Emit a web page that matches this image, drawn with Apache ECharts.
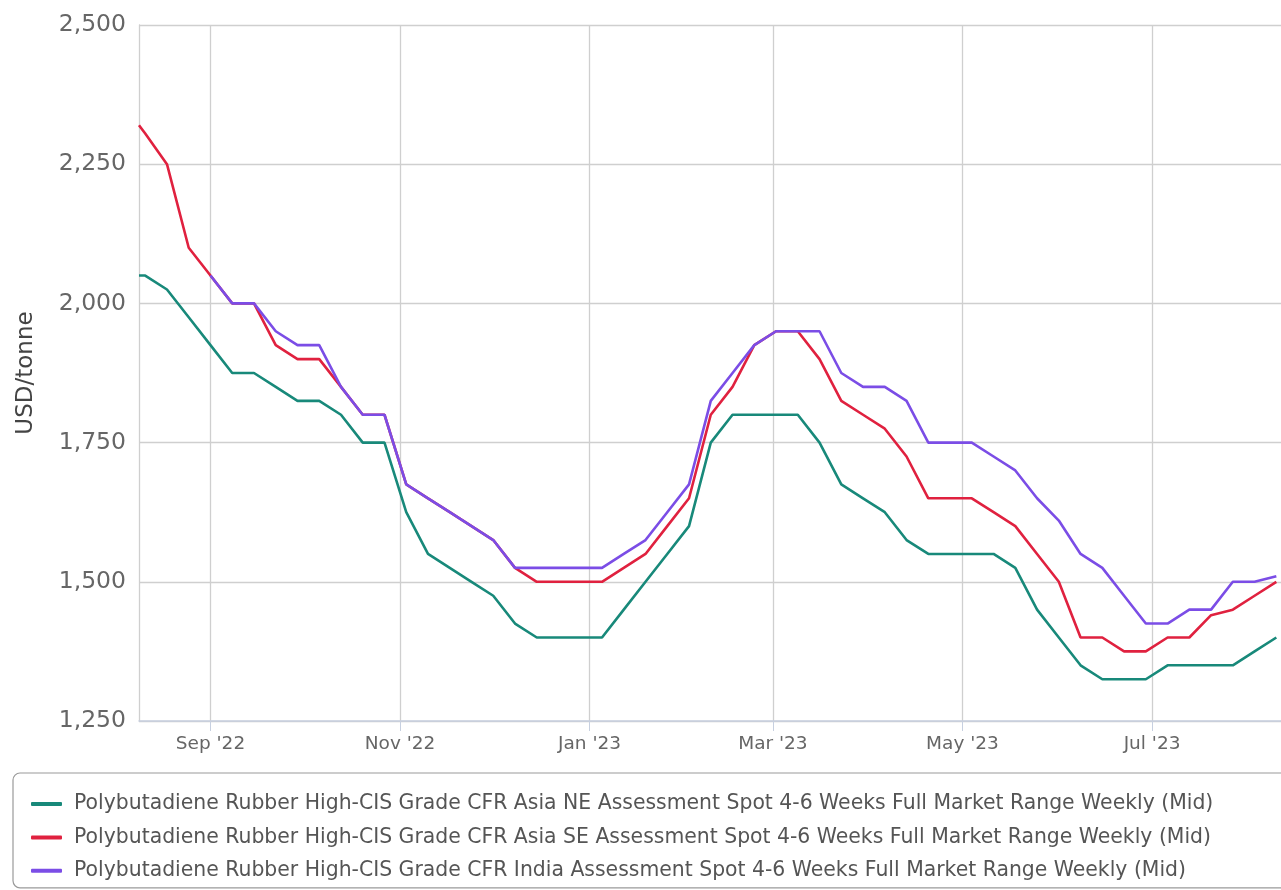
<!DOCTYPE html>
<html><head><meta charset="utf-8">
<script src="https://cdn.jsdelivr.net/npm/echarts@6/dist/echarts.min.js"></script>
<style>html,body{margin:0;padding:0;background:#fff;overflow:hidden}#c{width:1281px;height:890px}</style>
</head><body><div id="c"></div>
<script>
const dates = ['2022-08-09',
  '2022-08-11','2022-08-18','2022-08-25','2022-09-01','2022-09-08','2022-09-15','2022-09-22','2022-09-29',
  '2022-10-06','2022-10-13','2022-10-20','2022-10-27','2022-11-03','2022-11-10','2022-11-17','2022-11-24',
  '2022-12-01','2022-12-08','2022-12-15','2022-12-22','2022-12-29','2023-01-05','2023-01-12','2023-01-19',
  '2023-01-26','2023-02-02','2023-02-09','2023-02-16','2023-02-23','2023-03-02','2023-03-09','2023-03-16',
  '2023-03-23','2023-03-30','2023-04-06','2023-04-13','2023-04-20','2023-04-27','2023-05-04','2023-05-11',
  '2023-05-18','2023-05-25','2023-06-01','2023-06-08','2023-06-15','2023-06-22','2023-06-29','2023-07-06',
  '2023-07-13','2023-07-20','2023-07-27','2023-08-03','2023-08-10'];
const neValues = [2050,
  2050,2025,1975,1925,1875,1875,1850,1825,1825,1800,1750,1750,1625,1550,1525,1500,
  1475,1425,1400,1400,1400,1400,1450,1500,1550,1600,1750,1800,1800,1800,1800,1750,
  1675,1650,1625,1575,1550,1550,1550,1550,1525,1450,1400,1350,1325,1325,1325,1350,
  1350,1350,1350,1375,1400];
const seValues = [2320,
  2305,2250,2100,2050,2000,2000,1925,1900,1900,1850,1800,1800,1675,1650,1625,1600,
  1575,1525,1500,1500,1500,1500,1525,1550,1600,1650,1800,1850,1925,1950,1950,1900,
  1825,1800,1775,1725,1650,1650,1650,1625,1600,1550,1500,1400,1400,1375,1375,1400,
  1400,1440,1450,1475,1500];
const indiaValues = [null,
  null,null,null,2050,2000,2000,1950,1925,1925,1850,1800,1800,1675,1650,1625,1600,
  1575,1525,1525,1525,1525,1525,1550,1575,1625,1675,1825,1875,1925,1950,1950,1950,
  1875,1850,1850,1825,1750,1750,1750,1725,1700,1650,1610,1550,1525,1475,1425,1425,
  1450,1450,1500,1500,1510];
const seriesNames = [
  'Polybutadiene Rubber High-CIS Grade CFR Asia NE Assessment Spot 4-6 Weeks Full Market Range Weekly (Mid)',
  'Polybutadiene Rubber High-CIS Grade CFR Asia SE Assessment Spot 4-6 Weeks Full Market Range Weekly (Mid)',
  'Polybutadiene Rubber High-CIS Grade CFR India Assessment Spot 4-6 Weeks Full Market Range Weekly (Mid)'];
const seriesColors = ['#18897a','#e0213f','#7b4de6'];
const tickDates = ['2022-09-01','2022-11-01','2023-01-01','2023-03-01','2023-05-01','2023-07-01'];
const tickLabels = ["Sep '22","Nov '22","Jan '23","Mar '23","May '23","Jul '23"];
const yMin = 1250, yMax = 2500, yStep = 250;
const axisStart = '2022-08-09', axisEnd = '2023-08-11';

function ts(s){const p=s.split('-').map(Number);return Date.UTC(p[0],p[1]-1,p[2]);}
const times = dates.map(ts);
const tickTimes = tickDates.map(ts);
function pairs(vals){const out=[];vals.forEach((v,i)=>{if(v!==null)out.push([times[i],v]);});return out;}
const allValues=[neValues,seValues,indiaValues];
const FONT='DejaVu Sans';
const chart = echarts.init(document.getElementById('c'), null, {renderer:'canvas'});
chart.setOption({
  animation:false,
  backgroundColor:'#ffffff',
  grid:{left:139,right:0,top:25,bottom:169,containLabel:false},
  xAxis:{
    type:'value', min:ts(axisStart), max:ts(axisEnd)+12*3600*1000, scale:true,
    axisLine:{show:true,lineStyle:{color:'#c7d0e0',width:1.5}},
    axisTick:{show:true,length:10,lineStyle:{color:'#c7d0e0',width:1},customValues:tickTimes},
    axisLabel:{customValues:tickTimes,margin:14,color:'#666',fontFamily:FONT,fontSize:18.5,
      formatter:function(v){const i=tickTimes.indexOf(v);return i>=0?tickLabels[i]:'';}},
    splitLine:{show:true,lineStyle:{color:'#cfcfcf',width:1.3}}
  },
  yAxis:{
    type:'value',min:yMin,max:yMax,interval:yStep,
    name:'USD/tonne',nameLocation:'middle',nameGap:101,nameRotate:90,
    nameTextStyle:{color:'#444',fontFamily:FONT,fontSize:23},
    axisLine:{show:true,lineStyle:{color:'#cfcfcf',width:1.3}},
    axisTick:{show:false},
    axisLabel:{margin:13,color:'#666',fontFamily:FONT,fontSize:23.5,
      formatter:function(v){return v.toLocaleString('en-US');}},
    splitLine:{show:true,lineStyle:{color:'#cfcfcf',width:1.3}}
  },
  legend:{
    orient:'vertical',left:13,top:773,icon:'roundRect',itemWidth:31,itemHeight:4,itemGap:9.4,
    padding:[19,300,5,18],borderColor:'#9a9a9a',borderWidth:1.2,borderRadius:7,
    textStyle:{fontFamily:FONT,fontSize:20.4,color:'#555',lineHeight:24,padding:[0,0,0,7]},
    data:seriesNames
  },
  series:seriesNames.map((n,i)=>({
    name:n,type:'line',data:pairs(allValues[i]),showSymbol:false,symbol:'none',
    color:seriesColors[i],lineStyle:{width:2.6,color:seriesColors[i]},z:2+i
  }))
});
</script></body></html>
